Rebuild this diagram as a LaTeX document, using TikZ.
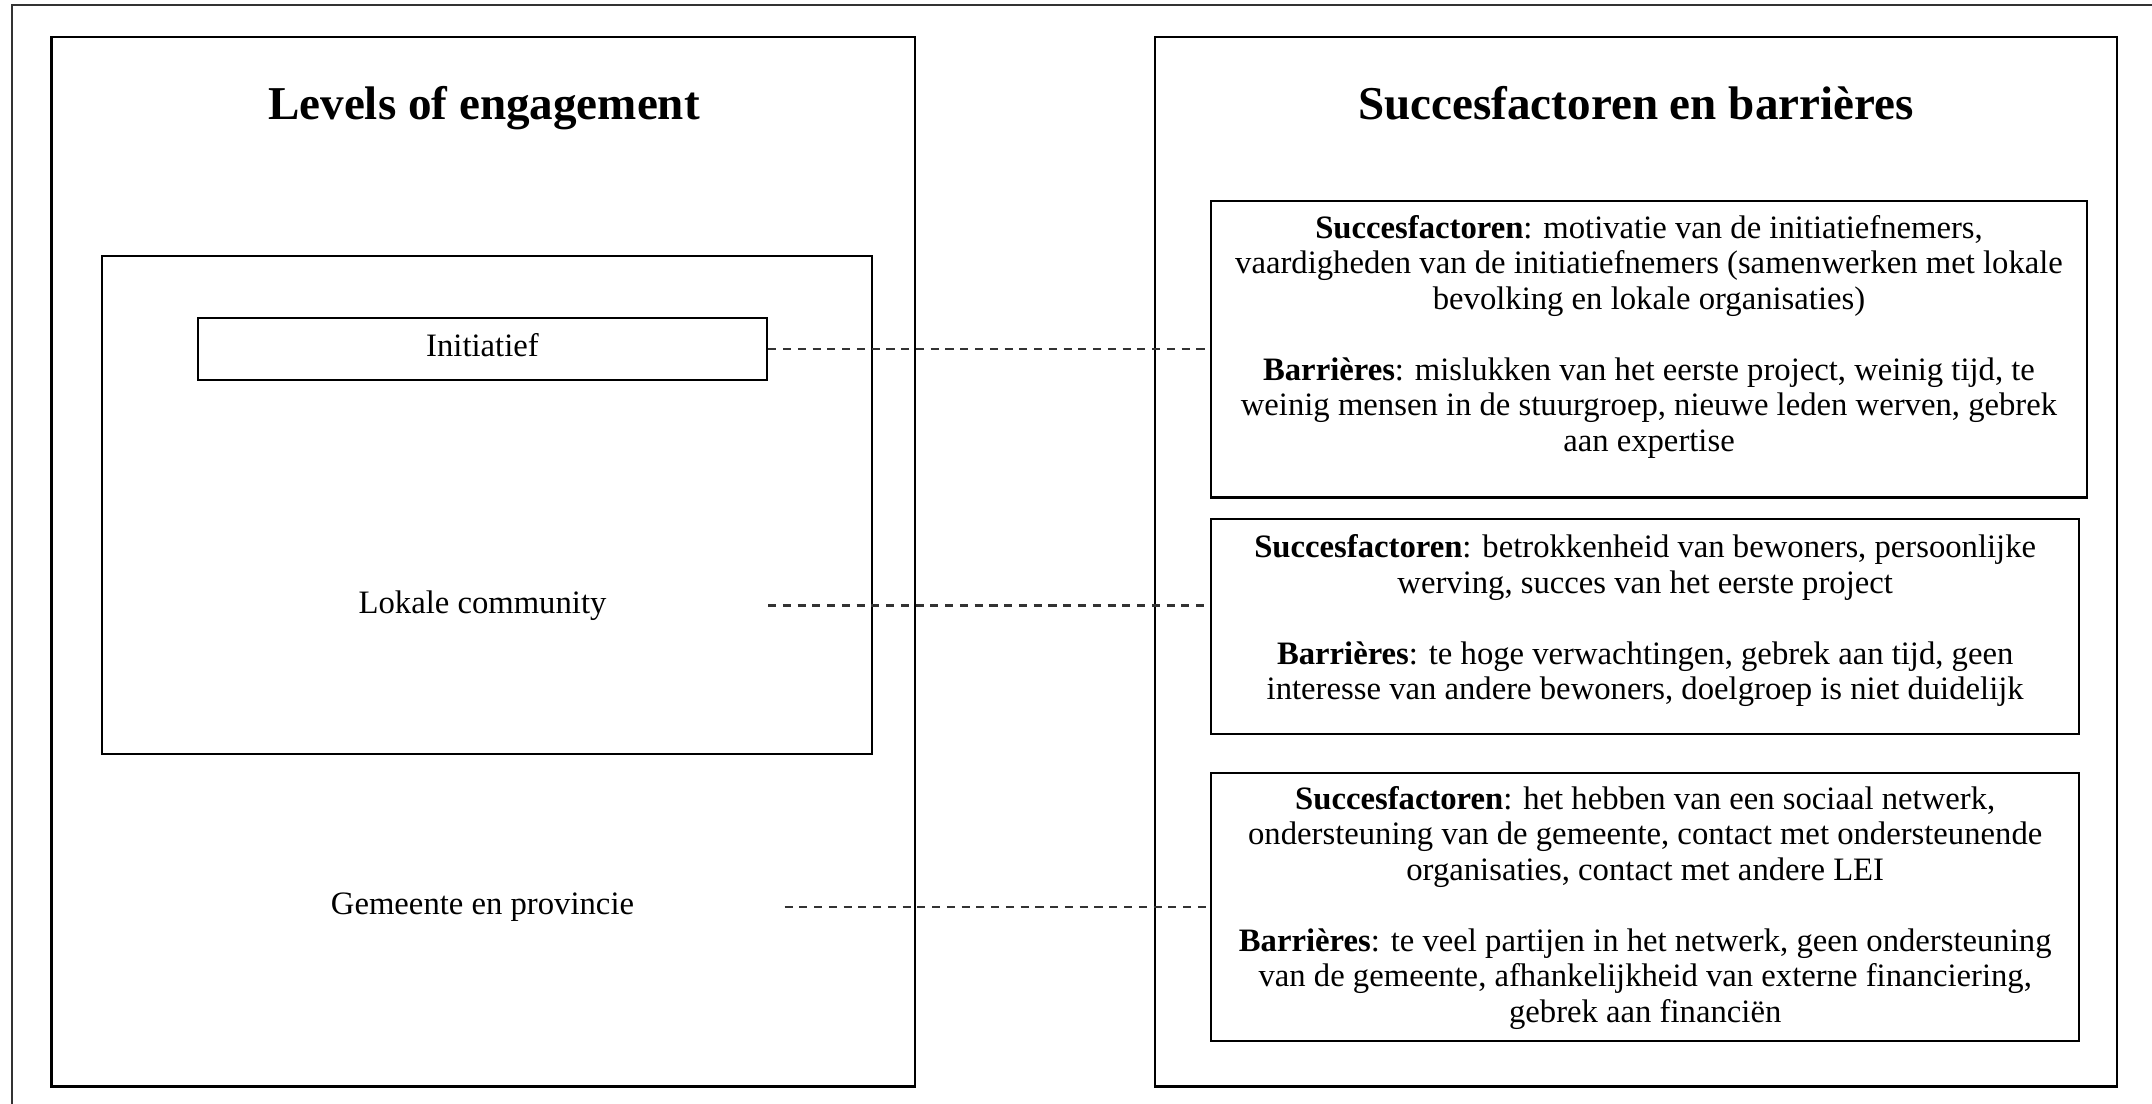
\documentclass[tikz,border=0pt]{standalone}
\usepackage{fontspec}
\setmainfont{Liberation Serif}
\usepackage{tikz}
\usetikzlibrary{positioning}
\tikzset{panel/.style={draw, line width=0.6pt, inner sep=0pt}}
\tikzset{tier/.style={inner sep=0pt, font=\fontsize{9.3}{10.1}\selectfont}}
\tikzset{factors/.style={align=center, inner sep=0pt, font=\fontsize{9.3}{10.1}\selectfont}}
\tikzset{heading/.style={anchor=base, font=\bfseries\fontsize{13.4}{15}\selectfont}}
\tikzset{link/.style={line width=0.65pt, black!80, dash pattern=on 2.3pt off 1.9pt}}

\begin{document}
\begin{tikzpicture}
\useasboundingbox (0,0) rectangle (21.52,11.04);
\draw[line width=0.7pt, black!80] (0.12,-0.5) rectangle (22,10.99);

\node[panel, minimum width=8.635cm, minimum height=10.495cm] (levels) at (4.8325,5.4225) {};
\node[panel, minimum width=9.62cm, minimum height=10.495cm] (succes) at (16.36,5.4225) {};
\node[heading] (levelstitle) at (4.84,9.847) {Levels of engagement};
\node[heading] (succestitle) at (16.36,9.847) {Succesfactoren en barrières};

\node[panel, minimum width=7.7cm, minimum height=4.978cm] (community) at (4.866,5.991) {};
\node[panel, tier, text depth=2.3pt, minimum width=5.696cm, minimum height=0.623cm] (initiatief) at (4.825,7.5485) {Initiatief};
\node[tier, minimum width=5.696cm] (lokale) at (4.825,4.985) {Lokale community};
\node[tier, minimum width=6.026cm] (gemeente) at (4.825,1.97) {Gemeente en provincie};

\node[panel, minimum width=8.76cm, minimum height=2.961cm] (box1) at (16.49,7.5455) {};
\node[panel, minimum width=8.684cm, minimum height=2.154cm] (box2) at (16.452,4.773) {};
\node[panel, minimum width=8.684cm, minimum height=2.686cm] (box3) at (16.452,1.969) {};

\node[factors, below=0.14cm of box1.north] (text1) {\textbf{Succesfactoren}: motivatie van de initiatiefnemers,\\
vaardigheden van de initiatiefnemers (samenwerken met lokale\\
bevolking en lokale organisaties)\\[10.1pt]
\textbf{Barrières}: mislukken van het eerste project, weinig tijd, te\\
weinig mensen in de stuurgroep, nieuwe leden werven, gebrek\\
aan expertise};
\node[factors, below=0.16cm of box2.north] (text2) {\textbf{Succesfactoren}: betrokkenheid van bewoners, persoonlijke\\
werving, succes van het eerste project\\[10.1pt]
\textbf{Barrières}: te hoge verwachtingen, gebrek aan tijd, geen\\
interesse van andere bewoners, doelgroep is niet duidelijk};
\node[factors, below=0.14cm of box3.north] (text3) {\textbf{Succesfactoren}: het hebben van een sociaal netwerk,\\
ondersteuning van de gemeente, contact met ondersteunende\\
organisaties, contact met andere LEI\\[10.1pt]
\textbf{Barrières}: te veel partijen in het netwerk, geen ondersteuning\\
van de gemeente, afhankelijkheid van externe financiering,\\
gebrek aan financiën};

\draw[link] (initiatief.east) -- (initiatief.east -| box1.west);
\draw[link] (lokale.east) -- (lokale.east -| box2.west);
\draw[link] (gemeente.east) -- (gemeente.east -| box3.west);
\end{tikzpicture}
\end{document}
